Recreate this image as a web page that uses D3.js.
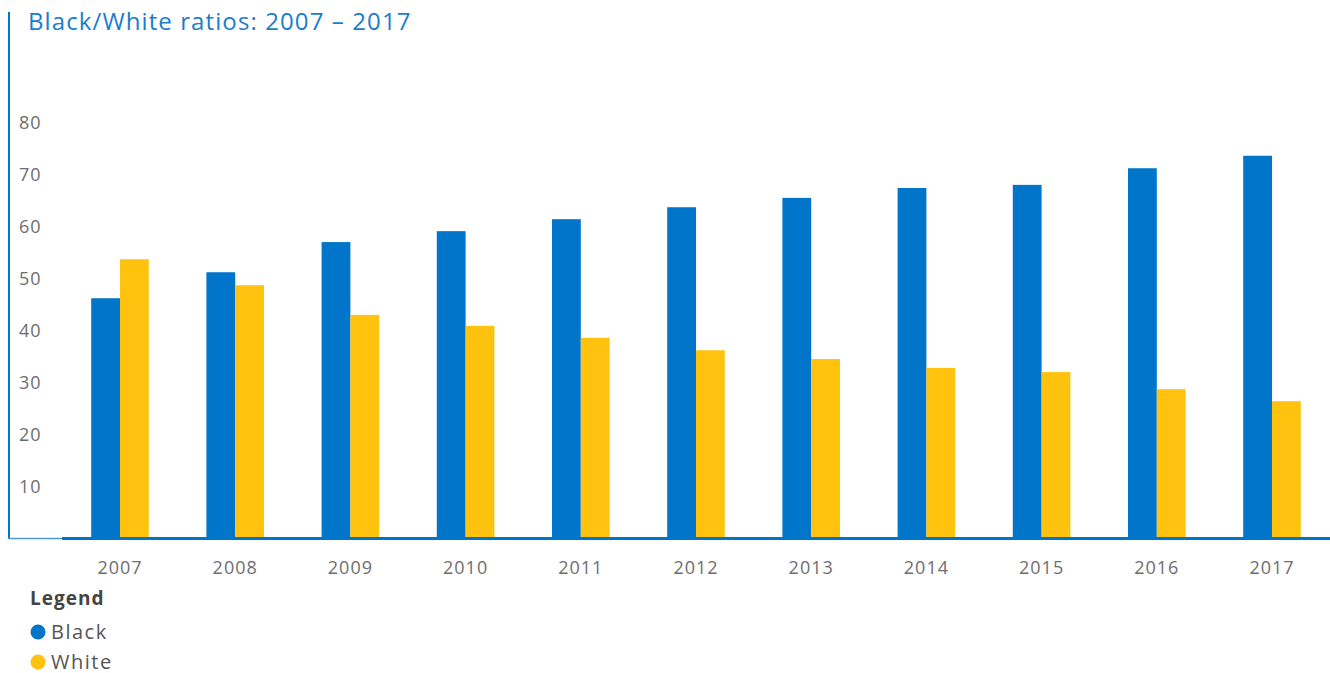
<!DOCTYPE html>
<html>
<head>
  <meta charset="utf-8">
  <title>Black/White ratios</title>
  <style>
    body { margin: 0; background: #fff; }
    svg text { font-family: "Open Sans", sans-serif; }
  </style>
</head>
<body>
<svg width="1330" height="673"></svg>
<script src="https://cdn.jsdelivr.net/npm/d3@7"></script>
<script>
  var years = ["2007", "2008", "2009", "2010", "2011", "2012", "2013", "2014", "2015", "2016", "2017"];
  var black = [46.3, 51.3, 57.1, 59.2, 61.5, 63.8, 65.6, 67.5, 68.1, 71.3, 73.7];
  var white = [53.8, 48.8, 43.1, 41.0, 38.7, 36.3, 34.6, 32.9, 32.1, 28.8, 26.5];
  var seriesNames = ["Black", "White"];
  var yTicks = [10, 20, 30, 40, 50, 60, 70, 80];

  var blue = "#0075c9", yellow = "#fec20f";
  var color = d3.scaleOrdinal().domain(seriesNames).range([blue, yellow]);

  var svg = d3.select("svg");

  var x = d3.scaleBand()
      .domain(years)
      .range([62.4, 1329.6])
      .paddingInner(0.5)
      .paddingOuter(0.25);

  var xs = d3.scaleBand()
      .domain(seriesNames)
      .range([0, x.bandwidth()]);

  var y = d3.scaleLinear().domain([0, 80]).range([539, 123]);

  // left rule
  svg.append("line")
      .attr("x1", 9).attr("x2", 9)
      .attr("y1", 12).attr("y2", 539)
      .attr("stroke", blue).attr("stroke-width", 2);

  // title
  svg.append("text")
      .attr("x", 28).attr("y", 30)
      .attr("fill", "#1a7dcc")
      .style("font-size", "24px")
      .style("letter-spacing", "1.1px")
      .text("Black/White ratios: 2007 \u2013 2017");

  // y axis labels
  svg.append("g")
    .selectAll("text")
    .data(yTicks)
    .enter().append("text")
      .attr("x", 19)
      .attr("y", function(d) { return y(d); })
      .attr("dy", "0.35em")
      .attr("fill", "#6e6e6e")
      .style("font-size", "18px")
      .style("letter-spacing", "1px")
      .text(function(d) { return d; });

  var rows = years.map(function(yr, i) {
    return {year: yr, values: [{key: "Black", value: black[i]}, {key: "White", value: white[i]}]};
  });

  var group = svg.selectAll(".yr")
    .data(rows)
    .enter().append("g")
      .attr("class", "yr")
      .attr("transform", function(d) { return "translate(" + x(d.year) + ",0)"; });

  group.selectAll("rect")
    .data(function(d) { return d.values; })
    .enter().append("rect")
      .attr("x", function(d) { return xs(d.key); })
      .attr("y", function(d) { return y(d.value); })
      .attr("width", xs.bandwidth())
      .attr("height", function(d) { return y(0) - y(d.value); })
      .attr("fill", function(d) { return color(d.key); });

  // x axis
  svg.append("line")
      .attr("x1", 8).attr("x2", 62)
      .attr("y1", 538.5).attr("y2", 538.5)
      .attr("stroke", "#4a9ad8").attr("stroke-width", 1.5);
  svg.append("line")
      .attr("x1", 62).attr("x2", 1330)
      .attr("y1", 538.5).attr("y2", 538.5)
      .attr("stroke", blue).attr("stroke-width", 3);

  svg.append("g")
    .selectAll("text")
    .data(years)
    .enter().append("text")
      .attr("x", function(d) { return x(d) + x.bandwidth() / 2; })
      .attr("y", 574)
      .attr("text-anchor", "middle")
      .attr("fill", "#6e6e6e")
      .style("font-size", "18px")
      .style("letter-spacing", "1px")
      .text(function(d) { return d; });

  // legend
  svg.append("text")
      .attr("x", 30).attr("y", 605)
      .attr("fill", "#444")
      .style("font-size", "19px")
      .style("font-weight", "bold")
      .style("letter-spacing", "1px")
      .text("Legend");

  var leg = svg.selectAll(".leg")
    .data(seriesNames)
    .enter().append("g")
      .attr("class", "leg")
      .attr("transform", function(d, i) { return "translate(0," + (632 + i * 30) + ")"; });

  leg.append("circle")
      .attr("cx", 38).attr("cy", 0).attr("r", 7.5)
      .attr("fill", function(d) { return color(d); });

  leg.append("text")
      .attr("x", 51).attr("y", 0)
      .attr("dy", "0.35em")
      .attr("fill", "#555")
      .style("font-size", "20px")
      .style("letter-spacing", "1.5px")
      .text(function(d) { return d; });
</script>
</body>
</html>
